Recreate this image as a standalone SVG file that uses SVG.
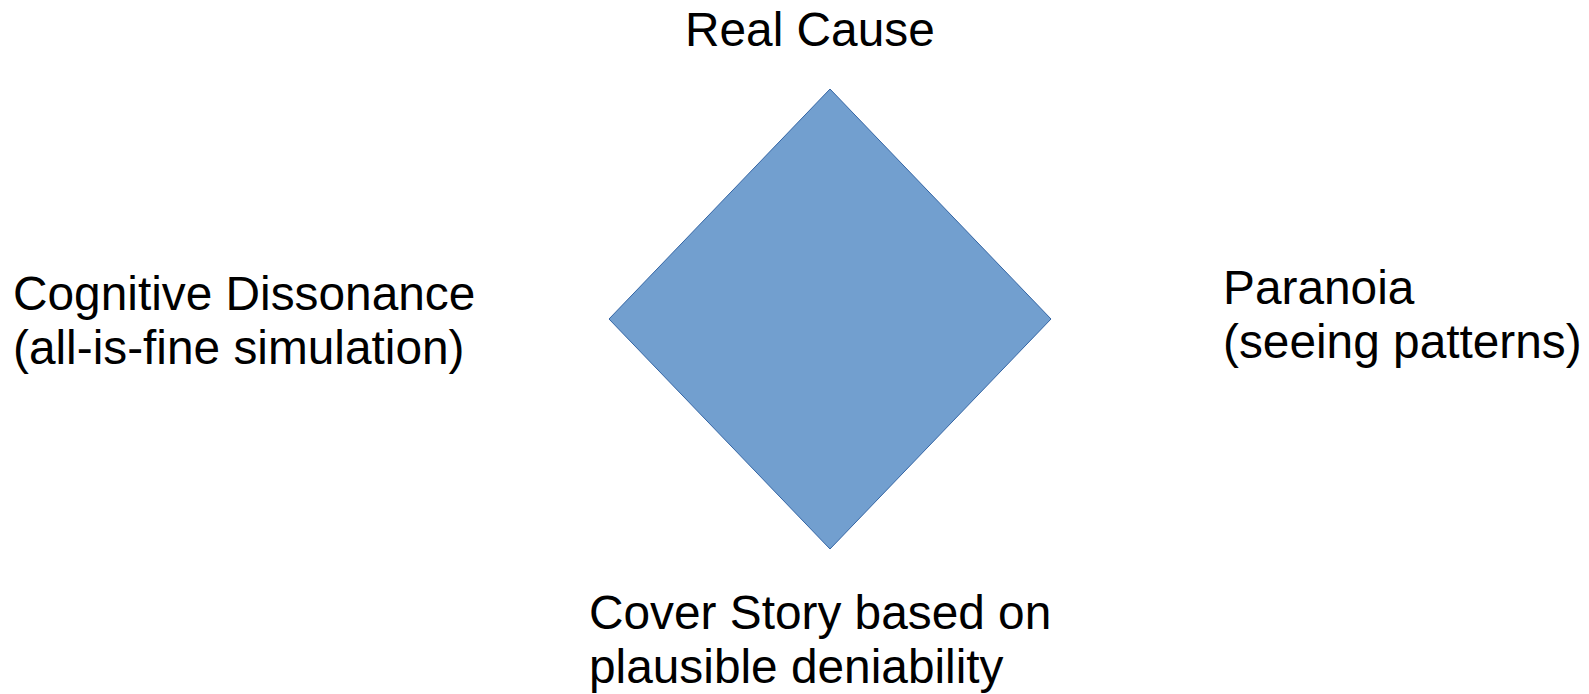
<svg xmlns="http://www.w3.org/2000/svg" width="1589" height="694" viewBox="0 0 1589 694">
<style>
.t{font-family:"Liberation Sans",Arial,sans-serif;font-size:47.8px;fill:#000}
</style>
<rect width="1589" height="694" fill="#fff"/>
<g id="diamond">
<polygon points="830,89 1051,319 830,549 609,319" fill="#729fcf" stroke="#3465a4" stroke-width="1"/>
</g>
<g id="connectors"></g>
<g id="real-cause"><text class="t" x="685" y="46">Real Cause</text></g>
<g id="cognitive"><text class="t" x="13" y="310">Cognitive Dissonance</text><text class="t" x="13" y="364">(all-is-fine simulation)</text></g>
<g id="paranoia"><text class="t" x="1223" y="304">Paranoia</text><text class="t" x="1223" y="358">(seeing patterns)</text></g>
<g id="cover"><text class="t" x="589" y="629">Cover Story based on</text><text class="t" x="589" y="683">plausible deniability</text></g>
</svg>
